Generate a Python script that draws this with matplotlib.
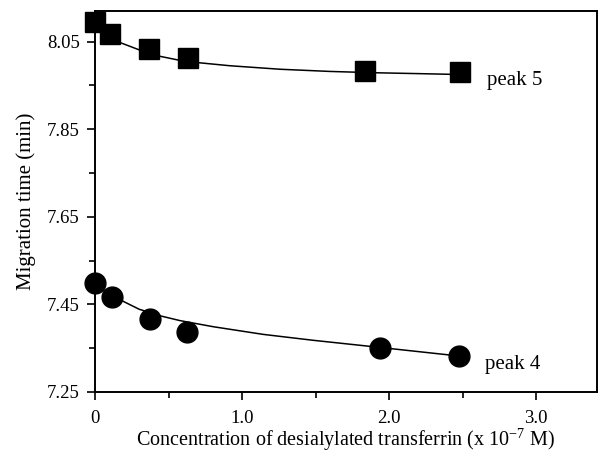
import numpy as np
import matplotlib
matplotlib.use("Agg")
import matplotlib.pyplot as plt
from matplotlib.ticker import FixedLocator

plt.rcParams['font.family'] = ['Liberation Serif', 'DejaVu Serif']
plt.rcParams['mathtext.fontset'] = 'custom'
plt.rcParams['mathtext.rm'] = 'Liberation Serif'
plt.rcParams['mathtext.it'] = 'Liberation Serif:italic'

# measured points
conc5 = [0.0, 0.10, 0.365, 0.631, 1.835, 2.483]
time5 = [8.095, 8.067, 8.033, 8.012, 7.984, 7.981]
conc4 = [0.0, 0.119, 0.374, 0.628, 1.939, 2.478]
time4 = [7.500, 7.468, 7.416, 7.388, 7.351, 7.333]

# fitted curves
fit5_x = [0.07, 0.17, 0.295, 0.435, 0.567, 0.703, 0.918, 1.259, 1.599, 1.905, 2.20, 2.48]
fit5_y = [8.062, 8.048, 8.032, 8.017, 8.008, 8.002, 7.995, 7.987, 7.982, 7.979, 7.977, 7.975]
fit4_x = [0.0, 0.186, 0.30, 0.442, 0.578, 0.805, 1.145, 1.485, 1.848, 2.15, 2.48]
fit4_y = [7.493, 7.458, 7.439, 7.424, 7.413, 7.399, 7.3815, 7.368, 7.355, 7.344, 7.332]

fig = plt.figure(figsize=(5.99, 4.53), dpi=100)
ax = fig.add_axes([0.1586, 0.1347, 0.8381, 0.8410])

ax.plot(fit5_x, fit5_y, 'k-', lw=1.1, zorder=2)
ax.plot(fit4_x, fit4_y, 'k-', lw=1.1, zorder=2)
ax.plot(conc5, time5, 'ks', ms=15, zorder=3, clip_on=False)
ax.plot(conc4, time4, 'ko', ms=15, zorder=3, clip_on=False)

ax.text(2.667, 7.962, 'peak 5', fontsize=15, va='center', ha='left')
ax.text(2.653, 7.313, 'peak 4', fontsize=15, va='center', ha='left')

ax.set_xlim(0, 3.415)
ax.set_ylim(7.25, 8.12)
ax.xaxis.set_major_locator(FixedLocator([0, 1, 2, 3]))
ax.set_xticklabels(['0', '1.0', '2.0', '3.0'])
ax.xaxis.set_minor_locator(FixedLocator([0.5, 1.5, 2.5]))
ax.yaxis.set_major_locator(FixedLocator([7.25, 7.45, 7.65, 7.85, 8.05]))
ax.set_yticklabels(['7.25', '7.45', '7.65', '7.85', '8.05'])
ax.yaxis.set_minor_locator(FixedLocator([7.35, 7.55, 7.75, 7.95]))

ax.tick_params(which='major', direction='out', length=6, width=1.2, labelsize=13.5, pad=5)
ax.tick_params(which='minor', direction='out', length=4, width=1.2)
ax.tick_params(axis='x', which='major', pad=7)
for s in ax.spines.values():
    s.set_linewidth(1.4)

ax.set_xlabel('Concentration of desialylated transferrin (x 10$^{-7}$ M)', fontsize=14.5, labelpad=0)
ax.set_ylabel('Migration time (min)', fontsize=15, labelpad=8)

fig.savefig('out.png', dpi=100)
